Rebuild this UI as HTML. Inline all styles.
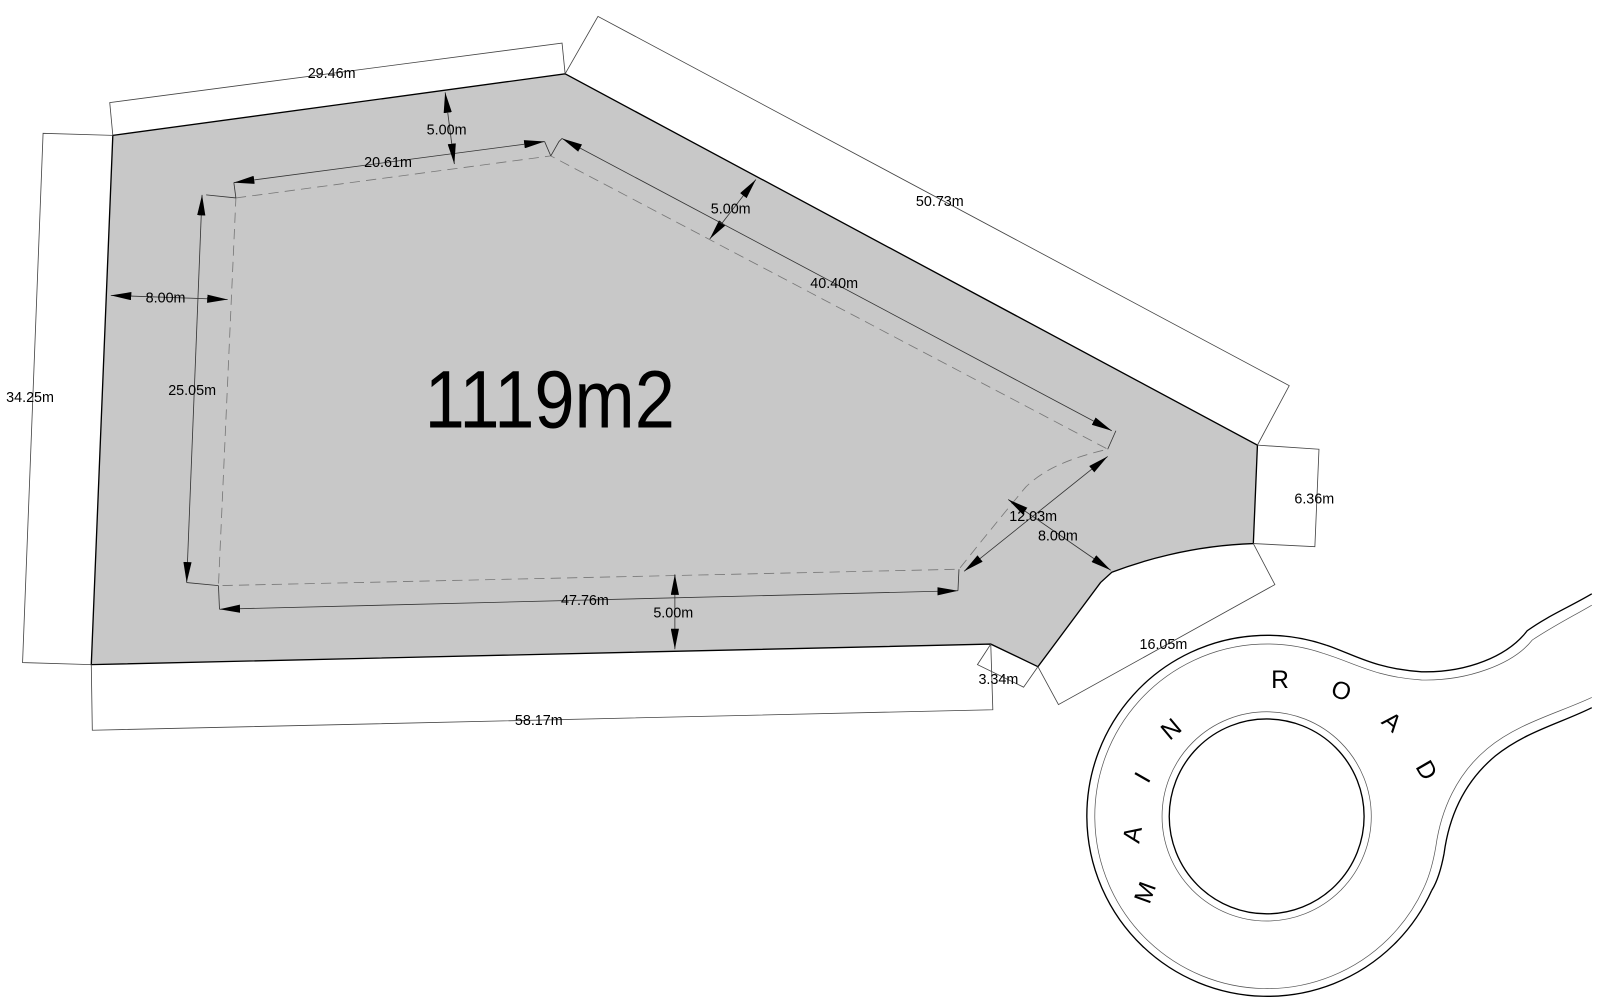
<!DOCTYPE html>
<html><head><meta charset="utf-8"><style>
html,body{margin:0;padding:0;background:#fff;width:1600px;height:1000px;overflow:hidden}
svg{display:block}
text{font-family:"Liberation Sans",sans-serif;font-size:14px;fill:#000}
text.rd{font-size:24px}
</style></head><body>
<svg width="1600" height="1000" viewBox="0 0 1560 975" preserveAspectRatio="none" xmlns="http://www.w3.org/2000/svg">
<defs>
<marker id="a" viewBox="0 0 20 8" refX="20" refY="4" markerWidth="20" markerHeight="8" markerUnits="userSpaceOnUse" orient="auto-start-reverse">
<path d="M0,0 L20,4 L0,8 z" fill="#000"/></marker>
</defs>
<rect width="1560" height="975" fill="#fff"/>
<path d="M110,132 L551,72 L1226,434 L1222,530 C1160,532 1110,548 1084,558 L1073,568 L1012,650 L966,628 L89,648 Z" fill="#c8c8c8" stroke="#000" stroke-width="1.3"/>
<g fill="none" stroke="#444" stroke-width="0.8">
<polyline points="110,132 107,100 548,42 551,72"/>
<polyline points="551,72 583,16 1257,376 1226,434"/>
<polyline points="110,132 42,130 22,646 89,648"/>
<polyline points="1226,434 1286,438 1282,533 1222,530"/>
<polyline points="1222,530 1243,570 1032,687 1012,650"/>
<polyline points="966,628 953,648 998,670 1012,650"/>
<polyline points="89,648 90,712 968,692 966,628"/>
</g>
<path d="M230,193 L537,152 L1080,438 C1050,445 1020,455 1000,475 C975,505 955,530 935,555 L213,571 Z" fill="none" stroke="#777" stroke-width="0.8" stroke-dasharray="10,6"/>
<g fill="none" stroke="#333" stroke-width="0.8">
<polyline points="230,193 228,178"/>
<polyline points="537,152 545,138 548,135"/>
<polyline points="537,152 531,138"/>
<polyline points="1080,438 1088,420"/>
<polyline points="213,571 214,594"/>
<polyline points="935,555 934,576"/>
<polyline points="230,193 201,190"/>
<polyline points="213,571 182,568"/>
<line x1="228" y1="178" x2="531" y2="138" marker-start="url(#a)" marker-end="url(#a)"/>
<line x1="434" y1="90" x2="443" y2="160" marker-start="url(#a)" marker-end="url(#a)"/>
<line x1="737" y1="175" x2="692" y2="233" marker-start="url(#a)" marker-end="url(#a)"/>
<line x1="548" y1="135" x2="1084" y2="420" marker-start="url(#a)" marker-end="url(#a)"/>
<line x1="108" y1="288" x2="222" y2="292" marker-start="url(#a)" marker-end="url(#a)"/>
<line x1="197" y1="190" x2="182" y2="568" marker-start="url(#a)" marker-end="url(#a)"/>
<line x1="214" y1="594" x2="934" y2="576" marker-start="url(#a)" marker-end="url(#a)"/>
<line x1="658" y1="560" x2="658" y2="633" marker-start="url(#a)" marker-end="url(#a)"/>
<line x1="940" y1="557" x2="1080" y2="445" marker-start="url(#a)" marker-end="url(#a)"/>
<line x1="983" y1="487" x2="1083" y2="556" marker-start="url(#a)" marker-end="url(#a)"/>
</g>
<g>
<text x="300" y="76">29.46m</text>
<text x="893" y="201">50.73m</text>
<text x="6" y="392">34.25m</text>
<text x="1262" y="491">6.36m</text>
<text x="1111" y="633">16.05m</text>
<text x="954" y="667">3.34m</text>
<text x="502" y="707">58.17m</text>
<text x="355" y="163">20.61m</text>
<text x="416" y="131">5.00m</text>
<text x="693" y="208">5.00m</text>
<text x="790" y="281">40.40m</text>
<text x="142" y="295">8.00m</text>
<text x="164" y="385">25.05m</text>
<text x="547" y="590">47.76m</text>
<text x="637" y="602">5.00m</text>
<text x="984" y="508">12.03m</text>
<text x="1012" y="527">8.00m</text>
<text x="414" y="417" style="font-family:'Liberation Sans Narrow','Liberation Sans',sans-serif;font-size:80px" textLength="244" lengthAdjust="spacingAndGlyphs">1119m2</text>
</g>
<g fill="none">
<path d="M1293,629 C1320,638 1340,652 1386,655 C1430,656 1470,640 1489,615 C1510,600 1530,592 1552,579" stroke="#000" stroke-width="1.3"/>
<path d="M1290,637 C1320,646 1340,660 1386,663 C1430,664 1475,648 1494,624 C1515,610 1535,600 1552,590" stroke="#555" stroke-width="0.7"/>
<path d="M1552,680 C1520,695 1480,705 1450,730 C1420,755 1405,790 1400,825 C1397,843 1393,855 1389,864" stroke="#555" stroke-width="0.7"/>
<path d="M1552,690 C1522,705 1488,713 1458,737 C1428,762 1413,795 1408,832 C1405,848 1401,860 1396,868" stroke="#000" stroke-width="1.3"/>
<path d="M1293,629 A176,176 0 1,0 1396,868" stroke="#000" stroke-width="1.3"/>
<path d="M1290,637 A168,168 0 1,0 1389,864" stroke="#555" stroke-width="0.7"/>
<circle cx="1235" cy="796" r="95" stroke="#000" stroke-width="1.3"/>
<circle cx="1235" cy="796" r="102" stroke="#555" stroke-width="0.7"/>
</g>
<g>
<text class="rd" transform="translate(1124,873) rotate(-70)" text-anchor="middle">M</text>
<text class="rd" transform="translate(1112,815) rotate(-80)" text-anchor="middle">A</text>
<text class="rd" transform="translate(1121,762) rotate(-60)" text-anchor="middle">I</text>
<text class="rd" transform="translate(1147,717) rotate(-40)" text-anchor="middle">N</text>
<text class="rd" transform="translate(1248,671) rotate(0)" text-anchor="middle">R</text>
<text class="rd" transform="translate(1305,681) rotate(20)" text-anchor="middle">O</text>
<text class="rd" transform="translate(1352,710) rotate(40)" text-anchor="middle">A</text>
<text class="rd" transform="translate(1384,755) rotate(60)" text-anchor="middle">D</text>
</g>
</svg>
</body></html>
